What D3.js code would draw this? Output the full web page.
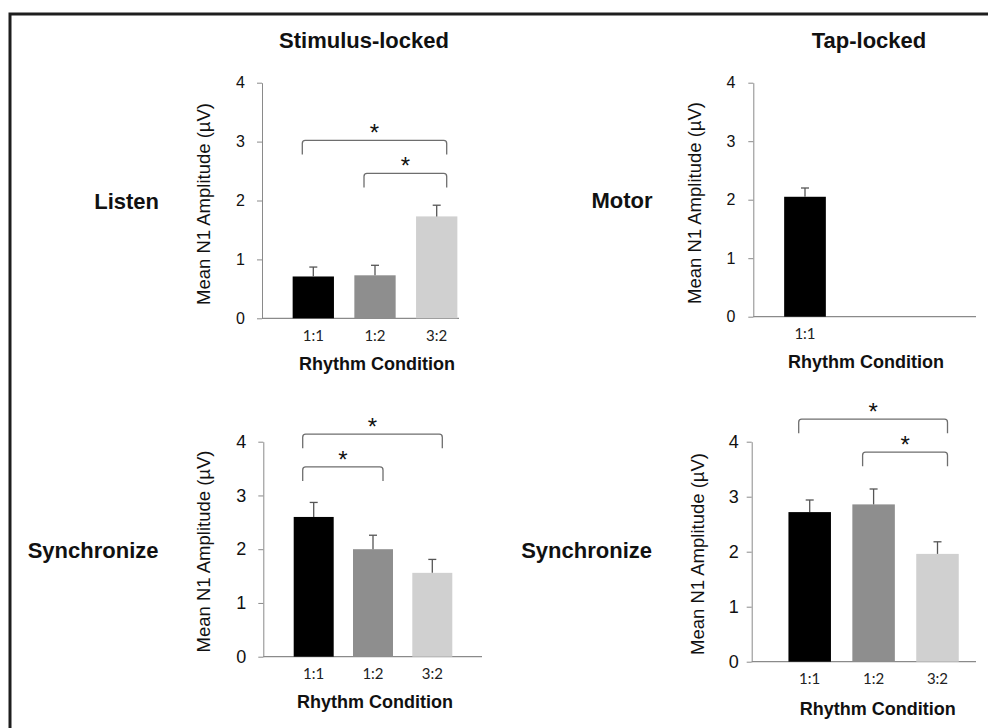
<!DOCTYPE html>
<html>
<head>
<meta charset="utf-8">
<script src="https://cdn.jsdelivr.net/npm/d3@7"></script>
<style>
  body { margin: 0; background: #fff; }
  svg { display: block; }
</style>
</head>
<body>
<div id="chart"></div>
<script>
// rhythm conditions and values (mean N1 amplitude, uV)
var categories = ["1:1", "1:2", "3:2"];
var motorCategories = ["1:1"];
var yTicks = [0, 1, 2, 3, 4];
var barColors = ["#000000", "#8e8e8e", "#d0d0d0"];

var listenMeans = [0.71, 0.73, 1.73];
var listenSem = [0.16, 0.17, 0.19];
var motorMeans = [2.05];
var motorSem = [0.15];
var syncStimMeans = [2.60, 2.00, 1.56];
var syncStimSem = [0.27, 0.26, 0.25];
var syncTapMeans = [2.72, 2.86, 1.96];
var syncTapSem = [0.22, 0.28, 0.22];

var listenBrackets = [{from: "1:1", to: "3:2", top: 3.02}, {from: "1:2", to: "3:2", top: 2.46}];
var syncStimBrackets = [{from: "1:1", to: "3:2", top: 4.14}, {from: "1:1", to: "1:2", top: 3.53}];
var syncTapBrackets = [{from: "1:1", to: "3:2", top: 4.41}, {from: "1:2", to: "3:2", top: 3.81}];

var W = 988, H = 728;
var svg = d3.select("#chart").append("svg").attr("width", W).attr("height", H);

// frame
svg.append("rect")
  .attr("x", 10).attr("y", 14).attr("width", W).attr("height", H)
  .attr("fill", "none").attr("stroke", "#1e1e1e").attr("stroke-width", 3);

var bold = "'Liberation Sans', Arial, sans-serif";

svg.append("text").attr("x", 364).attr("y", 48).attr("text-anchor", "middle")
  .style("font", "bold 22px " + bold).attr("fill", "#111").text("Stimulus-locked");
svg.append("text").attr("x", 869).attr("y", 48).attr("text-anchor", "middle")
  .style("font", "bold 22px " + bold).attr("fill", "#111").text("Tap-locked");

var rowLabels = [
  {t: "Listen", x: 159, y: 209},
  {t: "Motor", x: 652.5, y: 208},
  {t: "Synchronize", x: 158.5, y: 558},
  {t: "Synchronize", x: 652, y: 558}
];
rowLabels.forEach(function(d) {
  svg.append("text").attr("x", d.x).attr("y", d.y).attr("text-anchor", "end")
    .style("font", "bold 22px " + bold).attr("fill", "#111").text(d.t);
});

function panel(cfg) {
  var g = svg.append("g");
  var n = cfg.cats.length;
  var a = cfg.first - cfg.step / 2;
  var pad = 1 - cfg.bw / cfg.step;
  var x = d3.scaleBand().domain(cfg.cats).range([a, a + n * cfg.step])
    .paddingInner(pad).paddingOuter(pad / 2);
  var y = d3.scaleLinear().domain([0, 4]).range([cfg.bottom, cfg.top]);

  // y axis
  var ya = g.append("g").attr("transform", "translate(" + cfg.left + ",0)")
    .call(d3.axisLeft(y).tickValues(yTicks).tickFormat(d3.format("d"))
      .tickSize(5).tickSizeOuter(0).tickPadding(cfg.tpad));
  ya.select(".domain").attr("stroke", "#8a8a8a");
  ya.selectAll(".tick line").attr("stroke", "#8a8a8a");
  ya.selectAll(".tick text").style("font", cfg.tfs + "px " + bold).attr("fill", "#111");

  // x axis line
  g.append("line").attr("x1", cfg.left).attr("x2", cfg.right)
    .attr("y1", y(0)).attr("y2", y(0)).attr("stroke", "#8a8a8a").attr("stroke-width", 1.2);

  var xa = g.append("g").attr("transform", "translate(0," + y(0) + ")")
    .call(d3.axisBottom(x).tickSize(0).tickPadding(cfg.xpad));
  xa.select(".domain").remove();
  xa.selectAll(".tick text").style("font", "15px Lato, 'DejaVu Sans', sans-serif").attr("fill", "#222");

  // bars
  var data = cfg.cats.map(function(c, i) { return {c: c, m: cfg.means[i], e: cfg.sem[i], col: barColors[i]}; });
  g.selectAll("rect.bar").data(data).enter().append("rect")
    .attr("class", "bar")
    .attr("x", function(d) { return x(d.c); })
    .attr("width", x.bandwidth())
    .attr("y", function(d) { return y(d.m); })
    .attr("height", function(d) { return y(0) - y(d.m); })
    .attr("fill", function(d) { return d.col; });

  // error bars (upper only)
  data.forEach(function(d) {
    var cx = x(d.c) + x.bandwidth() / 2;
    g.append("line").attr("x1", cx).attr("x2", cx)
      .attr("y1", y(d.m)).attr("y2", y(d.m + d.e)).attr("stroke", "#555").attr("stroke-width", 1.3);
    g.append("line").attr("x1", cx - 4).attr("x2", cx + 4)
      .attr("y1", y(d.m + d.e)).attr("y2", y(d.m + d.e)).attr("stroke", "#555").attr("stroke-width", 1.3);
  });

  // significance brackets
  (cfg.brackets || []).forEach(function(b) {
    var x1 = x(b.from) + x.bandwidth() / 2 - 11;
    var x2 = x(b.to) + x.bandwidth() / 2 + 10;
    var yt = y(b.top), yb = yt + 14, r = 3;
    var p = "M" + x1 + "," + yb + " L" + x1 + "," + (yt + r) +
      " Q" + x1 + "," + yt + " " + (x1 + r) + "," + yt +
      " L" + (x2 - r) + "," + yt +
      " Q" + x2 + "," + yt + " " + x2 + "," + (yt + r) +
      " L" + x2 + "," + yb;
    g.append("path").attr("d", p).attr("fill", "none").attr("stroke", "#6e6e6e").attr("stroke-width", 1.3);
    g.append("text").attr("x", (x1 + x2) / 2).attr("y", yt + 1).attr("text-anchor", "middle")
      .style("font", "24px " + bold).attr("fill", "#111").text("*");
  });

  // axis titles
  g.append("text")
    .attr("transform", "translate(" + cfg.ylx + "," + cfg.yly + ") rotate(-90)")
    .attr("text-anchor", "middle")
    .style("font", "18.5px " + bold).attr("fill", "#111")
    .text("Mean N1 Amplitude (\u00b5V)");
  g.append("text").attr("x", cfg.xlx).attr("y", cfg.xly).attr("text-anchor", "middle")
    .style("font", "bold 18px " + bold).attr("fill", "#111").text("Rhythm Condition");
}

panel({cats: categories, means: listenMeans, sem: listenSem, brackets: listenBrackets,
  left: 262, right: 459, top: 82.7, bottom: 318.3, first: 313.3, step: 61.7, bw: 41.3,
  tfs: 16, tpad: 12, xpad: 12, ylx: 209.5, yly: 204, xlx: 377, xly: 370});
panel({cats: motorCategories, means: motorMeans, sem: motorSem, brackets: [],
  left: 753.3, right: 976, top: 82.7, bottom: 316.7, first: 805, step: 61.7, bw: 41.7,
  tfs: 16, tpad: 13, xpad: 12, ylx: 700.5, yly: 203, xlx: 866, xly: 368});
panel({cats: categories, means: syncStimMeans, sem: syncStimSem, brackets: syncStimBrackets,
  left: 263.3, right: 482, top: 441.7, bottom: 656.7, first: 313.7, step: 59.3, bw: 40,
  tfs: 18, tpad: 12, xpad: 12, ylx: 210, yly: 551.5, xlx: 375, xly: 708});
panel({cats: categories, means: syncTapMeans, sem: syncTapSem, brackets: syncTapBrackets,
  left: 751.7, right: 976, top: 441.7, bottom: 661.7, first: 809.7, step: 63.9, bw: 42.5,
  tfs: 18, tpad: 8, xpad: 12, ylx: 704, yly: 554, xlx: 877.7, xly: 714.5});
</script>
</body>
</html>
